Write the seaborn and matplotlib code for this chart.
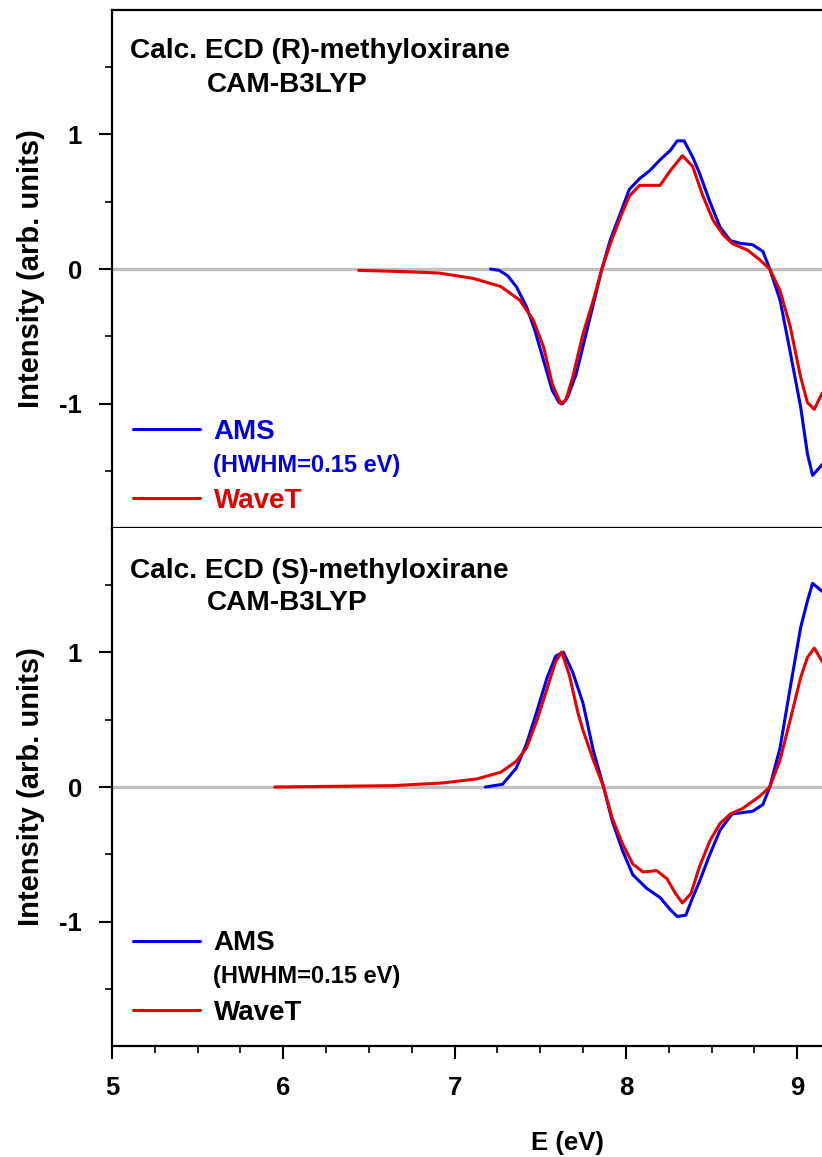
import numpy as np
import pandas as pd
import matplotlib
matplotlib.use("Agg")
import matplotlib.pyplot as plt
from matplotlib.lines import Line2D
from matplotlib.ticker import MultipleLocator
import seaborn as sns

# ---------------- data ----------------
r_ams_x = [7.21, 7.26, 7.31, 7.36, 7.42, 7.47, 7.52, 7.57, 7.61, 7.63, 7.66, 7.71, 7.76, 7.81,
           7.86, 7.91, 7.97, 8.02, 8.08, 8.14, 8.20, 8.26, 8.30, 8.34, 8.39, 8.43, 8.49, 8.55,
           8.61, 8.67, 8.74, 8.80, 8.84, 8.90, 8.96, 9.02, 9.06, 9.09, 9.146]
r_ams_y = [0.00, -0.01, -0.05, -0.13, -0.28, -0.46, -0.68, -0.90, -0.99, -1.00, -0.95, -0.78,
           -0.52, -0.26, 0.00, 0.22, 0.42, 0.59, 0.67, 0.73, 0.81, 0.88, 0.95, 0.95, 0.83, 0.71,
           0.50, 0.31, 0.21, 0.19, 0.18, 0.13, 0.00, -0.23, -0.62, -1.02, -1.37, -1.53, -1.45]

r_wavet_x = [6.44, 6.72, 6.91, 7.11, 7.27, 7.38, 7.46, 7.52, 7.57, 7.62, 7.65, 7.69, 7.75, 7.81,
             7.86, 7.91, 7.97, 8.02, 8.08, 8.14, 8.20, 8.26, 8.33, 8.39, 8.45, 8.51, 8.57, 8.62,
             8.71, 8.78, 8.84, 8.90, 8.96, 9.02, 9.06, 9.10, 9.146]
r_wavet_y = [-0.01, -0.02, -0.03, -0.07, -0.13, -0.23, -0.38, -0.58, -0.85, -1.00, -0.97, -0.80,
             -0.48, -0.23, 0.00, 0.19, 0.39, 0.54, 0.62, 0.62, 0.62, 0.73, 0.84, 0.76, 0.54, 0.36,
             0.25, 0.19, 0.14, 0.07, 0.00, -0.16, -0.43, -0.80, -0.99, -1.04, -0.92]

s_ams_x = [7.18, 7.28, 7.36, 7.42, 7.48, 7.54, 7.59, 7.635, 7.69, 7.75, 7.81, 7.87, 7.92, 7.98,
           8.04, 8.12, 8.20, 8.26, 8.30, 8.35, 8.39, 8.43, 8.49, 8.55, 8.62, 8.68, 8.74, 8.80,
           8.84, 8.90, 8.96, 9.02, 9.06, 9.09, 9.146]
s_ams_y = [0.00, 0.02, 0.14, 0.32, 0.56, 0.81, 0.97, 1.00, 0.85, 0.62, 0.27, 0.00, -0.25, -0.47,
           -0.65, -0.75, -0.82, -0.91, -0.96, -0.95, -0.82, -0.70, -0.50, -0.32, -0.20, -0.19,
           -0.18, -0.13, 0.00, 0.29, 0.74, 1.18, 1.38, 1.51, 1.45]

s_wavet_x = [5.95, 6.64, 6.93, 7.13, 7.27, 7.36, 7.42, 7.48, 7.54, 7.59, 7.625, 7.67, 7.72, 7.75,
             7.81, 7.87, 7.92, 7.98, 8.04, 8.10, 8.18, 8.24, 8.29, 8.33, 8.38, 8.43, 8.49, 8.55,
             8.61, 8.68, 8.78, 8.84, 8.90, 8.96, 9.02, 9.06, 9.10, 9.146]
s_wavet_y = [0.00, 0.01, 0.03, 0.06, 0.11, 0.19, 0.29, 0.49, 0.73, 0.93, 1.00, 0.83, 0.55, 0.42,
             0.20, 0.00, -0.23, -0.42, -0.57, -0.63, -0.62, -0.68, -0.79, -0.86, -0.79, -0.59,
             -0.40, -0.27, -0.20, -0.16, -0.07, 0.00, 0.20, 0.50, 0.81, 0.96, 1.03, 0.93]

series_names = ["AMS", "WaveT"]
series_colors = {"AMS": "#0000F0", "WaveT": "#E80000"}
titles = ["Calc. ECD (R)-methyloxirane", "Calc. ECD (S)-methyloxirane"]
subtitle = "CAM-B3LYP"
hwhm_note = "(HWHM=0.15 eV)"
x_ticks = [5, 6, 7, 8, 9]
y_ticks = [-1, 0, 1]
x_label = "E (eV)"
y_label = "Intensity (arb. units)"


def frame(ax_x, ax_y, wt_x, wt_y):
    return pd.concat([
        pd.DataFrame({"E": ax_x, "I": ax_y, "series": "AMS"}),
        pd.DataFrame({"E": wt_x, "I": wt_y, "series": "WaveT"}),
    ], ignore_index=True)


panels = [frame(r_ams_x, r_ams_y, r_wavet_x, r_wavet_y),
          frame(s_ams_x, s_ams_y, s_wavet_x, s_wavet_y)]

# ---------------- style ----------------
sns.set_style("ticks")
plt.rcParams["font.family"] = ["Liberation Sans", "DejaVu Sans"]
plt.rcParams["font.weight"] = "bold"
for key in ["text.color", "axes.labelcolor", "xtick.color", "ytick.color",
            "xtick.labelcolor", "ytick.labelcolor", "axes.edgecolor"]:
    plt.rcParams[key] = "black"

W, H = 822, 1157
fig = plt.figure(figsize=(W / 100, H / 100), dpi=100)
left = 112 / W
right = 1.0
ax_top = fig.add_axes([left, 1 - 528 / H, right - left, (528 - 10) / H])
ax_bot = fig.add_axes([left, 1 - 1046 / H, right - left, (1046 - 528) / H])

text_colors = [("#0000E0", "#E00000"), ("black", "black")]
legend_anchor_y = [0.211, 0.223]
hwhm_y = [0.121, 0.135]
title_y = [0.920, 0.917]
sub_y = [0.855, 0.856]

for i, (ax, df) in enumerate(zip([ax_top, ax_bot], panels)):
    ax.axhline(0, color="#c0c0c0", lw=2.4, zorder=1)
    sns.lineplot(data=df, x="E", y="I", hue="series", hue_order=series_names,
                 palette=series_colors, sort=False, estimator=None, legend=False,
                 lw=2.2, ax=ax, zorder=2)
    ax.set_xlim(5, 9.145)
    ax.set_ylim(-1.92, 1.92)
    ax.set_xticks(x_ticks)
    ax.set_yticks(y_ticks)
    ax.set_yticklabels([str(v) for v in y_ticks])
    ax.xaxis.set_minor_locator(MultipleLocator(0.25))
    ax.yaxis.set_minor_locator(MultipleLocator(0.5))
    ax.tick_params(which="major", direction="out", length=9.5, width=1.5, labelsize=18.5,
                   color="black", labelcolor="black")
    ax.tick_params(which="minor", direction="out", length=5, width=1.2, color="black")
    ax.tick_params(axis="y", which="major", pad=12)
    ax.tick_params(axis="x", which="major", pad=12)
    ax.tick_params(top=False, right=False, which="both")
    for side in ["left", "bottom", "top"]:
        ax.spines[side].set_linewidth(1.6)
        ax.spines[side].set_color("black")
    ax.spines["right"].set_visible(False)
    if i == 1:
        ax.spines["top"].set_visible(False)
    ax.set_ylabel(y_label, fontsize=21, fontweight="bold", labelpad=10, color="black")
    for lab in ax.get_xticklabels() + ax.get_yticklabels():
        lab.set_fontweight("bold")

    ax.text(0.026, title_y[i], titles[i], transform=ax.transAxes, fontsize=20.2,
            fontweight="bold", va="center", ha="left", color="black")
    ax.text(0.134, sub_y[i], subtitle, transform=ax.transAxes, fontsize=20.2,
            fontweight="bold", va="center", ha="left", color="black")

    handles = [Line2D([], [], color=series_colors[s], lw=2.2) for s in series_names]
    leg = ax.legend(handles, series_names, loc="upper left",
                    bbox_to_anchor=(0.0296, legend_anchor_y[i]), frameon=False,
                    borderpad=0, borderaxespad=0, handlelength=2.4, handletextpad=0.5,
                    labelspacing=1.55, prop={"size": 20, "weight": "bold"})
    for t, c in zip(leg.get_texts(), text_colors[i]):
        t.set_color(c)
    ax.text(0.142, hwhm_y[i], hwhm_note, transform=ax.transAxes, fontsize=17,
            fontweight="bold", va="center", ha="left", color=text_colors[i][0])

ax_top.set_xlabel("")
ax_top.tick_params(axis="x", labelbottom=False)
ax_bot.set_xlabel(x_label, fontsize=18.5, fontweight="bold", color="black")
ax_bot.xaxis.set_label_coords(0.641, -0.165)

fig.savefig("out.png", dpi=100)
